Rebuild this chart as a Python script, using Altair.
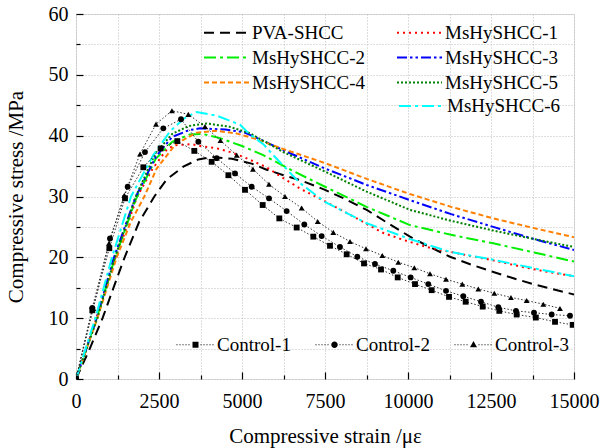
import altair as alt
import pandas as pd

FONT = "Liberation Serif"

# ---------------- data (strain in µε, stress in MPa) ----------------
pva_x = [0, 400, 800, 1150, 1450, 1900, 2359, 2730, 3233, 3684, 4100, 4700, 5291, 5743, 6250, 6747,
         7500, 8100, 8756, 9400, 10060, 10650, 11265, 11900, 12570, 13150, 13773, 14400, 15000]
pva_y = [0, 4.8, 10.0, 15.3, 19.8, 25.8, 30.0, 32.8, 34.9, 36.1, 36.5, 36.2, 35.4, 34.4, 33.5, 32.7,
         31.1, 29.6, 27.8, 25.6, 23.4, 21.7, 20.1, 18.8, 17.6, 16.6, 15.6, 14.7, 13.9]

m1_x = [0, 620, 1190, 1500, 1827, 2300, 2700, 2931, 3484, 3835, 4187, 4650, 5090, 5743, 6250, 6747,
        7500, 8253, 9256, 9900, 10563, 11265, 12000, 12570, 13300, 14100, 15000]
m1_y = [0, 10.0, 20.0, 24.5, 29.8, 34.5, 37.5, 38.4, 38.6, 38.2, 38.0, 37.3, 36.4, 34.8, 33.0, 31.3,
        29.2, 27.0, 24.0, 22.8, 21.7, 20.9, 20.1, 19.5, 18.6, 17.7, 16.9]

m2_x = [0, 622, 1150, 1800, 2400, 2900, 3434, 3800, 4337, 5000, 5642, 6500, 7500, 8750, 10060,
        11300, 12570, 13800, 15000]
m2_y = [0, 10.0, 19.5, 29.5, 36.2, 39.0, 40.2, 40.3, 39.6, 38.3, 36.8, 34.3, 31.6, 28.3, 25.3,
        23.7, 22.3, 20.8, 19.3]

m3_x = [0, 622, 1124, 1787, 2400, 2900, 3400, 3735, 4500, 5040, 5500, 6244, 7500, 8756, 10060,
        11300, 12570, 13800, 15000]
m3_y = [0, 10.0, 19.7, 29.8, 36.5, 39.8, 40.9, 41.2, 41.0, 40.6, 39.5, 37.6, 34.6, 31.9, 29.4,
        27.1, 25.0, 23.0, 21.2]

m4_x = [0, 643, 1225, 1650, 2058, 2430, 3000, 3634, 4200, 4800, 5341, 6244, 7500, 8756, 10060,
        11300, 12570, 13800, 15000]
m4_y = [0, 10.0, 20.0, 25.8, 30.0, 34.6, 38.6, 40.5, 40.8, 40.4, 39.6, 37.8, 35.5, 32.9, 30.4,
        28.3, 26.4, 24.8, 23.3]

m5_x = [0, 640, 1150, 1800, 2400, 2900, 3400, 3936, 4600, 5240, 6244, 7500, 8756, 10060, 11300,
        12570, 13800, 15000]
m5_y = [0, 10.0, 19.6, 30.0, 37.2, 40.3, 41.6, 42.0, 41.5, 40.4, 37.3, 34.1, 30.8, 27.8, 26.0,
        24.4, 23.0, 21.7]

m6_x = [0, 582, 1084, 1657, 2329, 2831, 3250, 3634, 4238, 4940, 5240, 5642, 5994, 6747, 7500,
        8756, 10060, 11265, 12570, 13800, 15000]
m6_y = [0, 10.0, 20.0, 30.0, 36.8, 40.7, 42.8, 43.9, 43.3, 41.8, 40.2, 38.6, 36.5, 32.2, 29.1,
        25.6, 23.0, 20.9, 19.6, 18.2, 16.9]

c1_x = [0, 491, 1004, 1476, 2028, 2550, 3052, 3564, 4086, 4590, 5090, 5623, 6124, 6647, 7148, 7650,
        8153, 8675, 9187, 9690, 10211, 10713, 11235, 11737, 12250, 12750, 13273, 13850, 14428, 14960]
c1_y = [0, 11.3, 21.5, 29.7, 34.8, 37.9, 39.1, 37.5, 35.7, 33.5, 31.1, 28.6, 26.4, 24.9, 23.4, 21.9,
        20.5, 19.0, 18.0, 16.7, 15.6, 14.6, 13.5, 12.7, 11.9, 11.2, 10.6, 10.1, 9.4, 8.9]

c2_x = [0, 491, 1024, 1556, 2078, 2630, 3163, 3684, 4238, 4790, 5291, 5813, 6345, 6877, 7400, 7951,
        8473, 9006, 9557, 10080, 10611, 11145, 11666, 12199, 12720, 13253, 13795, 14328, 14880]
c2_y = [0, 11.7, 23.1, 31.6, 37.3, 41.2, 42.7, 39.0, 36.3, 33.8, 31.6, 29.7, 27.6, 25.4, 23.5, 21.7,
        20.1, 18.9, 17.8, 16.7, 15.6, 14.5, 13.6, 12.7, 11.8, 11.2, 10.9, 10.6, 10.4]

c3_x = [0, 522, 994, 1455, 1928, 2410, 2890, 3383, 3886, 4350, 4840, 5330, 5813, 6295, 6797, 7280,
        7750, 8253, 8735, 9226, 9708, 10190, 10663, 11145, 11636, 12118, 12600, 13101, 13574, 14076,
        14578]
c3_y = [0, 11.6, 22.3, 30.2, 37.0, 41.9, 44.1, 43.5, 41.5, 39.2, 36.8, 34.5, 32.0, 30.0, 28.1, 25.9,
        24.1, 22.6, 21.4, 20.3, 19.2, 18.3, 17.3, 16.4, 15.6, 14.8, 14.1, 13.4, 12.9, 12.3, 11.6]

main_names = ["PVA-SHCC", "MsHySHCC-1", "MsHySHCC-2", "MsHySHCC-3", "MsHySHCC-4", "MsHySHCC-5"]
main_colors = ["#000000", "#FF0000", "#00EE00", "#0000FF", "#FF8000", "#008000"]
main_dashes = [[10, 6], [2, 4], [12, 4, 3, 4], [10, 3, 2.5, 3, 2.5, 3], [5, 3], [2, 2]]
cyan_name = "MsHySHCC-6"
ctrl_names = ["Control-1", "Control-2", "Control-3"]


def frame(pairs):
    rows = []
    for name, xs, ys in pairs:
        for i, (a, b) in enumerate(zip(xs, ys)):
            rows.append({"series": name, "strain": a, "stress": b, "i": i})
    return pd.DataFrame(rows)


df_main = frame([("PVA-SHCC", pva_x, pva_y), ("MsHySHCC-1", m1_x, m1_y), ("MsHySHCC-2", m2_x, m2_y),
                 ("MsHySHCC-3", m3_x, m3_y), ("MsHySHCC-4", m4_x, m4_y), ("MsHySHCC-5", m5_x, m5_y)])
df_cyan = frame([(cyan_name, m6_x, m6_y)])
df_ctrl = frame([("Control-1", c1_x, c1_y), ("Control-2", c2_x, c2_y), ("Control-3", c3_x, c3_y)])

xtick_vals = list(range(0, 15001, 1250))
ytick_vals = list(range(0, 61, 5))

W, H = 498, 365
xsc = alt.Scale(domain=[0, 15000], nice=False, zero=False)
ysc = alt.Scale(domain=[0, 60], nice=False, zero=False)

grid_style = dict(grid=True, gridColor="#bdbdbd", gridDash=[1, 2], gridWidth=1)
label_style = dict(labelFont=FONT, labelFontSize=20, labelFontWeight="normal", labelColor="black",
                   labelOverlap=False, labelFlush=False, format="d")
title_style = dict(titleFont=FONT, titleFontSize=21, titleFontWeight="normal", titleColor="black")

axis_x_main = alt.Axis(orient="bottom", values=xtick_vals,
                       labelExpr="datum.value % 2500 === 0 ? datum.label : ''",
                       ticks=False, tickSize=0, domain=False, labelPadding=12,
                       title="Compressive strain /\u03bc\u03b5", titleX=W / 2, titleY=63,
                       titleBaseline="alphabetic", **grid_style, **label_style, **title_style)
axis_y_main = alt.Axis(orient="left", values=ytick_vals,
                       labelExpr="datum.value % 10 === 0 ? datum.label : ''",
                       ticks=False, tickSize=0, domain=False, labelPadding=8,
                       title="Compressive stress /MPa", titleX=-50, titleY=H / 2, titleAngle=270,
                       titleBaseline="bottom", **grid_style, **label_style, **title_style)

axis_x_ticks = alt.Axis(orient="top", offset=-H, values=xtick_vals, labels=False, domain=False,
                        grid=False, ticks=True, tickColor="black", tickWidth=1.2,
                        tickSize={"condition": {"test": "datum.value % 2500 === 0", "value": 7}, "value": 4},
                        title="")
axis_y_ticks = alt.Axis(orient="right", offset=-W, values=ytick_vals, labels=False, domain=False,
                        grid=False, ticks=True, tickColor="black", tickWidth=1.2,
                        tickSize={"condition": {"test": "datum.value % 10 === 0", "value": 7}, "value": 4},
                        title="")

legend_common = dict(title=None, orient="none", labelFont=FONT, labelFontSize=19, labelFontWeight="normal",
                     labelColor="black", padding=0, labelLimit=0)

legend_main = alt.Legend(legendX=138, legendY=6, direction="horizontal", columns=2, columnPadding=28,
                         rowPadding=2, symbolType="M-2,0H2", symbolSize=506, symbolStrokeWidth=2,
                         labelOffset=13, **legend_common)
legend_cyan = alt.Legend(legendX=333, legendY=79.5, symbolType="M-2,0H2", symbolSize=506,
                         symbolStrokeWidth=2, labelOffset=13, **legend_common)


def ctrl_path(marker):
    dots = "".join("M{:.2f},-0.1h0.2v0.2h-0.2z".format(-3.8 + 0.6 * k)
                   for k in range(13) if abs(-3.8 + 0.6 * k + 0.1) > 0.9)
    return dots + marker


ctrl_paths = [ctrl_path("M-0.6,-0.6h1.2v1.2h-1.2z"),
              ctrl_path("M-0.65,0a0.65,0.65 0 1,1 1.3,0a0.65,0.65 0 1,1 -1.3,0z"),
              ctrl_path("M0,-0.75L0.7,0.5H-0.7z")]

legend_ctrl = alt.Legend(legendX=110, legendY=321, direction="horizontal", columns=3, columnPadding=24,
                         symbolSize=100, symbolStrokeWidth=0, labelOffset=12,
                         symbolFillColor="black", **legend_common)

main_lines = alt.Chart(df_main).mark_line(strokeWidth=2, clip=True).encode(
    x=alt.X("strain:Q", scale=xsc, axis=axis_x_main),
    y=alt.Y("stress:Q", scale=ysc, axis=axis_y_main),
    color=alt.Color("series:N", scale=alt.Scale(domain=main_names, range=main_colors), legend=legend_main),
    strokeDash=alt.StrokeDash("series:N", scale=alt.Scale(domain=main_names, range=main_dashes),
                              legend=legend_main),
    order="i:Q",
)

cyan_line = alt.Chart(df_cyan).mark_line(strokeWidth=2, clip=True).encode(
    x=alt.X("strain:Q", scale=xsc, axis=None),
    y=alt.Y("stress:Q", scale=ysc, axis=None),
    color=alt.Color("series:N", scale=alt.Scale(domain=[cyan_name], range=["#00FFFF"]), legend=legend_cyan),
    strokeDash=alt.StrokeDash("series:N", scale=alt.Scale(domain=[cyan_name], range=[[12, 4, 3, 4]]),
                              legend=legend_cyan),
    order="i:Q",
)

ctrl_lines = alt.Chart(df_ctrl).mark_line(strokeWidth=1, strokeDash=[1.5, 2], color="#303030", clip=True).encode(
    x=alt.X("strain:Q", scale=xsc, axis=axis_x_ticks),
    y=alt.Y("stress:Q", scale=ysc, axis=axis_y_ticks),
    detail="series:N",
    order="i:Q",
)

ctrl_pts = alt.Chart(df_ctrl).mark_point(filled=True, color="black", size=34, opacity=1, clip=True).encode(
    x=alt.X("strain:Q", scale=xsc, axis=None),
    y=alt.Y("stress:Q", scale=ysc, axis=None),
    shape=alt.Shape("series:N", scale=alt.Scale(domain=ctrl_names, range=["square", "circle", "triangle-up"]),
                    legend=None),
)

ctrl_leg = alt.Chart(df_ctrl).transform_filter("datum.stress > 1000").mark_point(
    filled=True, color="black", opacity=1).encode(
    x=alt.X("strain:Q", scale=xsc, axis=None),
    y=alt.Y("stress:Q", scale=ysc, axis=None),
    shape=alt.Shape("series:N", scale=alt.Scale(domain=ctrl_names, range=ctrl_paths), legend=legend_ctrl),
)

chart = alt.layer(main_lines, cyan_line, ctrl_lines, ctrl_pts, ctrl_leg).resolve_scale(
    color="independent", strokeDash="independent", shape="independent"
).resolve_axis(
    x="independent", y="independent"
).properties(
    width=W, height=H,
    autosize=alt.AutoSizeParams(type="none"),
    padding={"left": 76, "top": 14, "right": 26, "bottom": 69},
).configure_view(
    stroke="black", strokeWidth=1.5
).configure_axis(
    labelFont=FONT, titleFont=FONT
).configure_legend(
    labelFont=FONT, titleFont=FONT
).configure(
    font=FONT, background="white",
    style={"guide-label": {"font": FONT}, "guide-title": {"font": FONT}}
)

chart.save("out.html", embed_options={"renderer": "svg", "actions": False})
